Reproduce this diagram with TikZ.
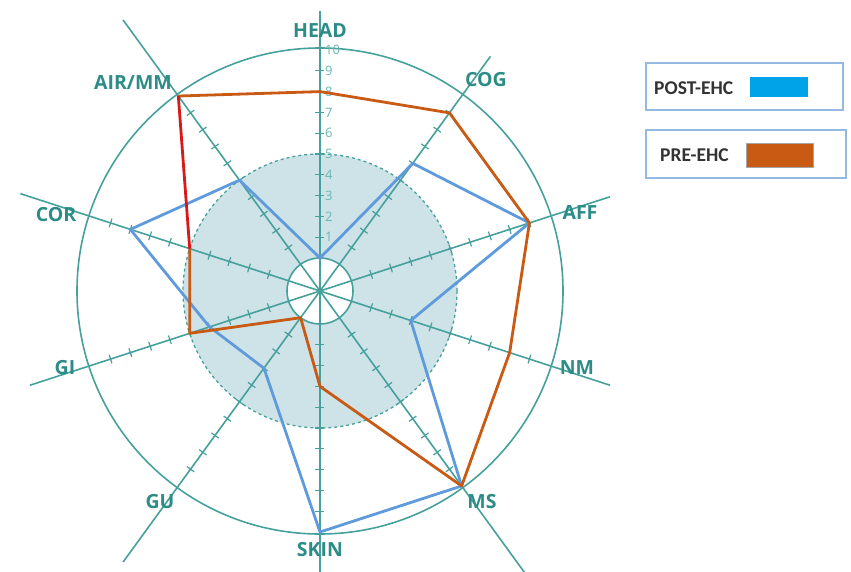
\documentclass[tikz,border=0pt]{standalone}
\usepackage{fontspec}
\setmainfont{Open Sans}
\newfontfamily\legfont{Carlito}

\definecolor{axisteal}{RGB}{70,160,155}
\definecolor{labelteal}{RGB}{45,140,135}
\definecolor{ticknum}{RGB}{105,182,177}
\definecolor{zonefill}{RGB}{206,227,231}
\definecolor{preorange}{RGB}{200,90,20}
\definecolor{postblue}{RGB}{95,155,220}
\definecolor{airred}{RGB}{215,25,25}
\definecolor{swblue}{RGB}{0,162,232}
\definecolor{legborder}{RGB}{150,185,225}

\tikzset{
  axislabel/.style={font=\bfseries\fontsize{19.5}{20}\selectfont, text=labelteal, inner sep=0pt},
  ticklabel/.style={font=\fontsize{13}{13}\selectfont, text=ticknum, anchor=west, inner sep=0pt},
  legbox/.style={draw=legborder, line width=2pt, fill=white},
  legtext/.style={font=\legfont\bfseries\fontsize{19.5}{20}\selectfont, text=black!80, anchor=west, inner sep=0pt},
  dataline/.style={line width=2.8pt, line join=round},
  axisline/.style={axisteal, line width=1.6pt},
}

\begin{document}
\begin{tikzpicture}[x=1pt,y=1pt]
\useasboundingbox (-320,-280) rectangle (531,291);

% zone 0..5 and rings
\fill[zonefill] (0,0) circle [radius=137];
\draw[axisline, dashed, line width=1.3pt] (0,0) circle [radius=137];
\fill[white] (0,0) circle [radius=33];
\draw[axisline] (0,0) circle [radius=33];
\draw[axisline] (0,0) circle [radius=243];

% axes with ticks
\foreach \ang/\len in {90/280, 54/290, 18/305, -18/305, -54/350, -90/300, -126/335, -162/305, 162/315, 126/335}{
  \draw[axisline] (0,0) -- (\ang:\len);
  \begin{scope}[rotate=\ang]
    \foreach \k in {1,...,9}
      \draw[axisline, line width=1.2pt] ({33+20.8*\k},-4.5) -- ({33+20.8*\k},4.5);
  \end{scope}
}

% scale on HEAD axis
\foreach \k in {1,...,10}
  \node[ticklabel] (t\k) at (5, {33+20.8*\k}) {\k};

% data points
\foreach \name/\ang/\pre/\post in {head/90/8/0, cog/54/9/6, aff/18/9/9, nm/-18/8/3, ms/-54/10/10,
    skin/-90/3/10, gu/-126/0/3, gi/-162/5/4, cor/162/5/8, air/126/10/5}{
  \coordinate (pre-\name) at (\ang:{33+20.8*\pre});
  \coordinate (post-\name) at (\ang:{33+20.8*\post});
}

\draw[dataline, postblue] (post-head) -- (post-cog) -- (post-aff) -- (post-nm) -- (post-ms) -- (post-skin)
  -- (post-gu) -- (post-gi) -- (post-cor) -- (post-air) -- cycle;
\draw[dataline, preorange] (pre-cor) -- (pre-gi) -- (pre-gu) -- (pre-skin) -- (pre-ms) -- (pre-nm)
  -- (pre-aff) -- (pre-cog) -- (pre-head) -- (pre-air);
\draw[dataline, airred] (pre-air) -- (pre-cor);

% axis names
\node[axislabel] (head) at (0,260) {HEAD};
\node[axislabel] (cog) at (166,211) {COG};
\node[axislabel] (aff) at (260,78) {AFF};
\node[axislabel] (nm) at (257,-77) {NM};
\node[axislabel] (ms) at (162,-211) {MS};
\node[axislabel] (skin) at (0,-259) {SKIN};
\node[axislabel] (gu) at (-160,-211) {GU};
\node[axislabel] (gi) at (-255,-77) {GI};
\node[axislabel] (cor) at (-264,76) {COR};
\node[axislabel] (airmm) at (-187,208) {AIR/MM};

% legend
\draw[legbox] (326,181) rectangle (523,228);
\node[legtext] (postlab) at (334,203) {POST-EHC};
\fill[swblue] (430,194) rectangle (488,214);
\draw[legbox] (326,113) rectangle (526,161);
\node[legtext] (prelab) at (340,136) {PRE-EHC};
\filldraw[fill=preorange, draw=gray!70, line width=1pt] (426,124) rectangle (493,148);

\end{tikzpicture}
\end{document}
